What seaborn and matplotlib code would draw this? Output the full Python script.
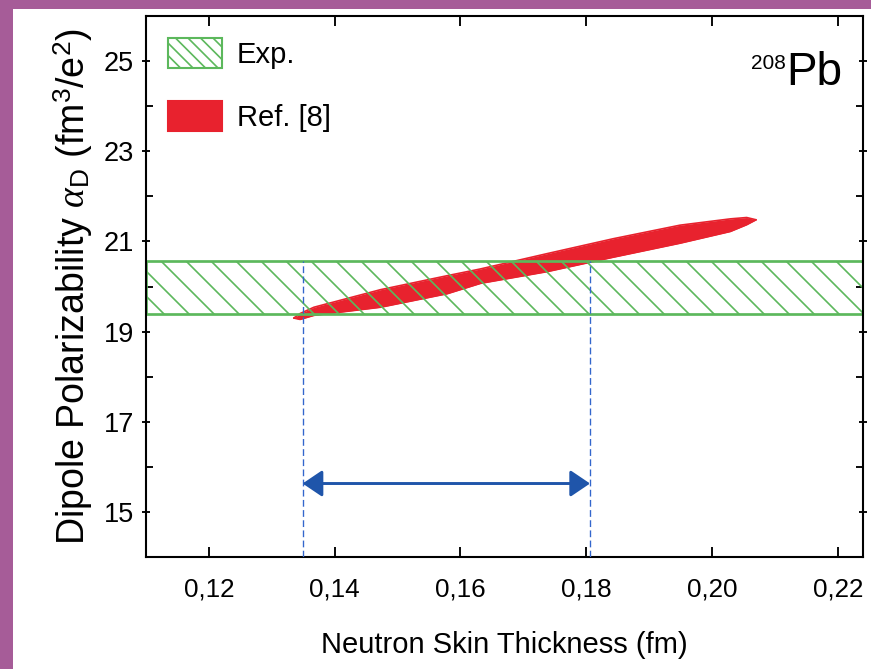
import numpy as np
import pandas as pd
import matplotlib
matplotlib.use("Agg")
import matplotlib.pyplot as plt
from matplotlib.patches import Patch, Rectangle
import seaborn as sns

# ---- data ----
exp_low, exp_high = 19.38, 20.56
ref_x = [0.1335, 0.1345, 0.1367, 0.1473, 0.1579, 0.1632, 0.1738, 0.1843, 0.1949, 0.2029, 0.2055, 0.2070]
ref_upper = [19.30, 19.40, 19.54, 19.93, 20.24, 20.39, 20.73, 21.06, 21.36, 21.50, 21.53, 21.48]
ref_lower = [19.30, 19.27, 19.36, 19.54, 19.84, 20.07, 20.33, 20.65, 20.96, 21.22, 21.37, 21.48]
skin_low, skin_high = 0.1349, 0.1806
arrow_y = 15.63
xticks = [0.12, 0.14, 0.16, 0.18, 0.20, 0.22]
xtick_labels = ["0,12", "0,14", "0,16", "0,18", "0,20", "0,22"]
yticks = [15, 17, 19, 21, 23, 25]
yminor = [16, 18, 20, 22, 24]
legend_labels = ["Exp.", "Ref. [8]"]

green = "#5cb85c"
red = "#e8222e"
blue = "#3366cc"
arrow_blue = "#1f55aa"
purple = "#a65c98"

sns.set_theme(style="ticks")
plt.rcParams["font.family"] = ["Liberation Sans", "DejaVu Sans"]
plt.rcParams["hatch.linewidth"] = 0.8
plt.rcParams["mathtext.fontset"] = "custom"
plt.rcParams["mathtext.rm"] = "Liberation Sans"
plt.rcParams["mathtext.it"] = "Liberation Serif:italic"
for k in ("text.color", "axes.labelcolor", "xtick.color", "ytick.color", "axes.edgecolor"):
    plt.rcParams[k] = "black"

DPI = 150
fig = plt.figure(figsize=(871 / DPI, 669 / DPI), dpi=DPI, facecolor=purple)
fig.patches.append(Rectangle((13 / 871, 0), 1, 1 - 9 / 669, transform=fig.transFigure,
                             facecolor="white", edgecolor="none", zorder=-10))
ax = fig.add_axes([146 / 871, 1 - 557 / 669, (863 - 146) / 871, (557 - 16) / 669])
ax.set_zorder(5)
ax.set_facecolor("white")

# red correlation region
ax.fill_between(ref_x, ref_lower, ref_upper, color=red, lw=0, zorder=1)
df_edge = pd.DataFrame({"x": ref_x + ref_x, "y": ref_upper + ref_lower,
                        "edge": ["u"] * len(ref_x) + ["l"] * len(ref_x)})
sns.lineplot(data=df_edge, x="x", y="y", units="edge", estimator=None, color=red,
             lw=0.8, ax=ax, zorder=1, legend=False)

# experimental band
ax.axhspan(exp_low, exp_high, facecolor="none", edgecolor=green, hatch="\\\\", lw=1.3, zorder=2)

# dashed lines
for xv in (skin_low, skin_high):
    ax.plot([xv, xv], [14, exp_high], color=blue, lw=0.65, ls=(0, (5, 2.5)), zorder=3)

ax.annotate("", xy=(skin_high, arrow_y), xytext=(skin_low, arrow_y),
            arrowprops=dict(arrowstyle="<|-|>,head_length=0.4,head_width=0.27",
                            color=arrow_blue, lw=1.4, mutation_scale=20,
                            shrinkA=0, shrinkB=0), zorder=4)

ax.set_xlim(0.11, 0.224)
ax.set_ylim(14, 26)
ax.set_xticks(xticks)
ax.set_xticklabels(xtick_labels)
ax.set_yticks(yticks)
ax.set_yticks(yminor, minor=True)
ax.set_yticklabels([str(v) for v in yticks])

for s in ax.spines.values():
    s.set_linewidth(1.0)
    s.set_color("black")
ax.tick_params(axis="x", which="major", direction="in", length=4.8, width=0.9,
               top=True, bottom=True, labelsize=12.5, pad=10)
ax.tick_params(axis="y", which="major", direction="inout", length=3.6, width=0.9,
               left=True, right=True, labelsize=13, pad=4)
ax.tick_params(axis="y", which="minor", direction="in", length=3.4, width=0.9,
               left=True, right=True)

ax.set_xlabel("Neutron Skin Thickness (fm)", fontsize=14, labelpad=14)
ax.set_ylabel(r"Dipole Polarizability $\alpha_{\rm D}$ (fm$^3$/e$^2$)", fontsize=18,
              labelpad=4)

# label 208Pb
pb = ax.text((842 - 146) / 717, (557 - 85) / 541, "Pb", transform=ax.transAxes,
             ha="right", va="baseline", fontsize=22)
ax.annotate("208", xy=(0, 0.93), xycoords=pb, ha="right", va="top", fontsize=10)

handles = [Patch(facecolor="none", edgecolor=green, hatch="\\\\\\\\", lw=1.0),
           Patch(facecolor=red, edgecolor=red)]
leg = ax.legend(handles, legend_labels, loc="upper left", frameon=False, fontsize=14,
                handlelength=1.88, handleheight=1.2, labelspacing=1.1, handletextpad=0.5,
                borderaxespad=0.0, borderpad=0.0,
                bbox_to_anchor=(21.5 / 717, 1 - 22 / 541))

fig.savefig("out.png", dpi=DPI, facecolor=purple)
